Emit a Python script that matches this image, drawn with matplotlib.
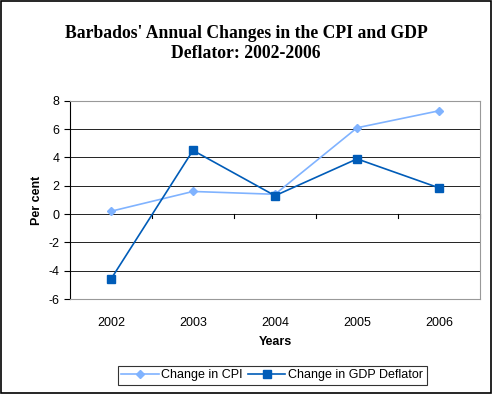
import numpy as np
import matplotlib
matplotlib.use("Agg")
import matplotlib.pyplot as plt

years = ["2002", "2003", "2004", "2005", "2006"]
cpi = [0.2, 1.6, 1.4, 6.1, 7.3]
deflator = [-4.6, 4.5, 1.3, 3.9, 1.85]
y_ticks = [-6, -4, -2, 0, 2, 4, 6, 8]

plt.rcParams["font.family"] = ["Liberation Sans", "DejaVu Sans"]

fig = plt.figure(figsize=(4.92, 3.94), dpi=100)
fig.patches.append(plt.Rectangle((0.002, 0.002), 0.996, 0.996, transform=fig.transFigure,
                                 fill=False, edgecolor="black", linewidth=1.2))
ax = fig.add_axes([0.142, 0.241, 0.834, 0.503])

x = np.arange(len(years))
ax.plot(x, cpi, color="#80b3ff", marker="D", markersize=4.5, linewidth=1.2,
        label="Change in CPI", zorder=3)
ax.plot(x, deflator, color="#005cb8", marker="s", markersize=5.5, linewidth=1.2,
        label="Change in GDP Deflator", zorder=4)

ax.set_xlim(-0.5, len(years) - 0.5)
ax.set_ylim(-6, 8)
ax.set_yticks(y_ticks)
ax.set_yticklabels([str(v) for v in y_ticks], fontsize=9)
for v in y_ticks[1:-1]:
    ax.axhline(v, color="#222222", linewidth=0.7, zorder=1)

ax.set_xticks(x)
ax.set_xticklabels(years, fontsize=9)
ax.tick_params(axis="x", length=0, pad=13)
ax.tick_params(axis="y", length=4, direction="out", width=0.8)
# category boundary ticks on the zero line
for b in np.arange(-0.5, len(years), 1.0)[1:]:
    ax.plot([b, b], [0, -0.28], color="black", linewidth=0.8, clip_on=False, zorder=2)

for s in ["top", "right", "bottom"]:
    ax.spines[s].set_color("#999999")
ax.spines["left"].set_color("black")

ax.set_xlabel("Years", fontsize=9, fontweight="bold", labelpad=5)
ax.set_ylabel("Per cent", fontsize=9, fontweight="bold", labelpad=4)

fig.text(0.5, 0.89, "Barbados' Annual Changes in the CPI and GDP\nDeflator: 2002-2006",
         ha="center", va="center", fontsize=12.7, fontweight="bold",
         family="Liberation Serif", linespacing=1.2)

leg = fig.legend(loc="center", bbox_to_anchor=(0.553, 0.047), ncol=2, fontsize=9,
                 frameon=True, fancybox=False, edgecolor="black", handlelength=3.0,
                 handletextpad=0.2, columnspacing=0.4, borderpad=0.3)
leg.get_frame().set_linewidth(0.8)

fig.savefig("out.png", dpi=100)
